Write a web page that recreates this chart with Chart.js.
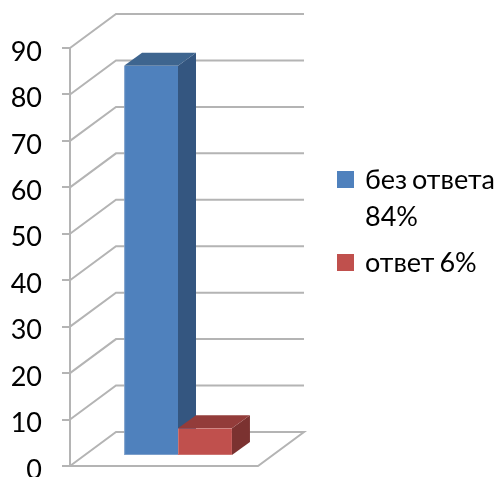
<!DOCTYPE html>
<html>
<head>
<meta charset="utf-8">
<style>
  html, body { margin: 0; padding: 0; background: #fff; overflow: hidden; }
  #wrap { width: 499px; height: 477px; }
</style>
<script src="https://cdn.jsdelivr.net/npm/chart.js@4"></script>
</head>
<body>
<div id="wrap"><canvas id="myChart" width="499" height="477"></canvas></div>
<script>
var categories = [""];
var seriesNames = ["без ответа 84%", "ответ 6%"];
var series1 = [84];
var series2 = [6];
var yTicks = [0, 10, 20, 30, 40, 50, 60, 70, 80, 90];

var frontColors = ["#4f81bd", "#c0504d"];
var edgeColors = ["#7c9fcb", "#cd7471"];
var topColors = ["#3e658f", "#933c3a"];
var sideColors = ["#345680", "#7b3230"];
var gridColor = "#b4b4b4";
var fontName = "Lato, Carlito, 'Open Sans', sans-serif";
var edge = { left: 1, bottom: 1, top: 0, right: 0 };

// wall depth, and how far the bars sit inside the floor
var wallX = 46, wallY = -34;
var barX = 14, barY = -10;
var depthX = 18, depthY = -13;

function poly(ctx, pts, color) {
  ctx.fillStyle = color;
  ctx.beginPath();
  ctx.moveTo(pts[0][0], pts[0][1]);
  for (var i = 1; i < pts.length; i++) ctx.lineTo(pts[i][0], pts[i][1]);
  ctx.closePath();
  ctx.fill();
}

// side and top faces go down first, the library then paints the fronts over them
var box3d = {
  id: "box3d",
  beforeDatasetsDraw: function (chart) {
    var ctx = chart.ctx;
    var area = chart.chartArea;
    var y = chart.scales.y;

    ctx.save();
    ctx.strokeStyle = gridColor;
    ctx.lineWidth = 2;
    yTicks.forEach(function (t) {
      var py = y.getPixelForValue(t);
      ctx.beginPath();
      ctx.moveTo(area.left, py);
      ctx.lineTo(area.left + wallX, py + wallY);
      ctx.lineTo(area.right + wallX, py + wallY);
      if (t === 0) {
        ctx.lineTo(area.right, py);
        ctx.lineTo(area.left, py);
      }
      ctx.stroke();
    });
    ctx.restore();

    ctx.save();
    ctx.translate(barX, barY);
    chart.data.datasets.forEach(function (ds, i) {
      var bar = chart.getDatasetMeta(i).data[0];
      var l = bar.x - bar.width / 2;
      var r = bar.x + bar.width / 2;
      poly(ctx, [[r, bar.y], [r + depthX, bar.y + depthY], [r + depthX, bar.base + depthY], [r, bar.base]], sideColors[i]);
      poly(ctx, [[l, bar.y], [l + depthX, bar.y + depthY], [r + depthX, bar.y + depthY], [r, bar.y]], topColors[i]);
    });
  },
  afterDatasetsDraw: function (chart) {
    chart.ctx.restore();
  }
};

var sideLegend = {
  id: "sideLegend",
  afterDraw: function (chart) {
    var ctx = chart.ctx;
    ctx.save();
    ctx.font = "27px " + fontName;
    ctx.wordSpacing = "-2px";
    ctx.textBaseline = "alphabetic";

    ctx.fillStyle = frontColors[0];
    ctx.fillRect(337, 171, 17, 17);
    ctx.fillStyle = frontColors[1];
    ctx.fillRect(337, 254, 17, 17);

    // the first entry is too long for one line
    var first = seriesNames[0].split(" ");
    ctx.fillStyle = "#000";
    ctx.fillText(first[0] + " " + first[1], 365, 189);
    ctx.fillText(first[2], 365, 226);
    ctx.fillText(seriesNames[1], 365, 272);
    ctx.restore();
  }
};

var chart = new Chart("myChart", {
  type: "bar",
  data: {
    labels: categories,
    datasets: [
      { label: seriesNames[0], data: series1, backgroundColor: frontColors[0], borderColor: edgeColors[0], borderWidth: edge, borderSkipped: false, clip: false },
      { label: seriesNames[1], data: series2, backgroundColor: frontColors[1], borderColor: edgeColors[1], borderWidth: edge, borderSkipped: false, clip: false }
    ]
  },
  options: {
    responsive: false,
    animation: false,
    layout: { padding: { top: 48, right: 241, bottom: 11, left: 0 } },
    datasets: { bar: { barPercentage: 1, categoryPercentage: 0.574 } },
    plugins: { legend: { display: false }, tooltip: { enabled: false }, title: { display: false } },
    scales: {
      x: { display: false },
      y: {
        min: 0,
        max: 90,
        afterFit: function (scale) {
          scale.width = 70;
          scale.paddingTop = 0;
          scale.paddingBottom = 0;
        },
        afterBuildTicks: function (scale) {
          scale.ticks = yTicks.map(function (v) { return { value: v }; });
        },
        border: { color: gridColor, width: 2 },
        grid: { drawOnChartArea: false, color: gridColor, lineWidth: 2, tickLength: 8 },
        ticks: {
          color: "#000",
          padding: 20,
          labelOffset: 4,
          font: { family: fontName, size: 27 }
        }
      }
    }
  },
  plugins: [box3d, sideLegend]
});
</script>
</body>
</html>
